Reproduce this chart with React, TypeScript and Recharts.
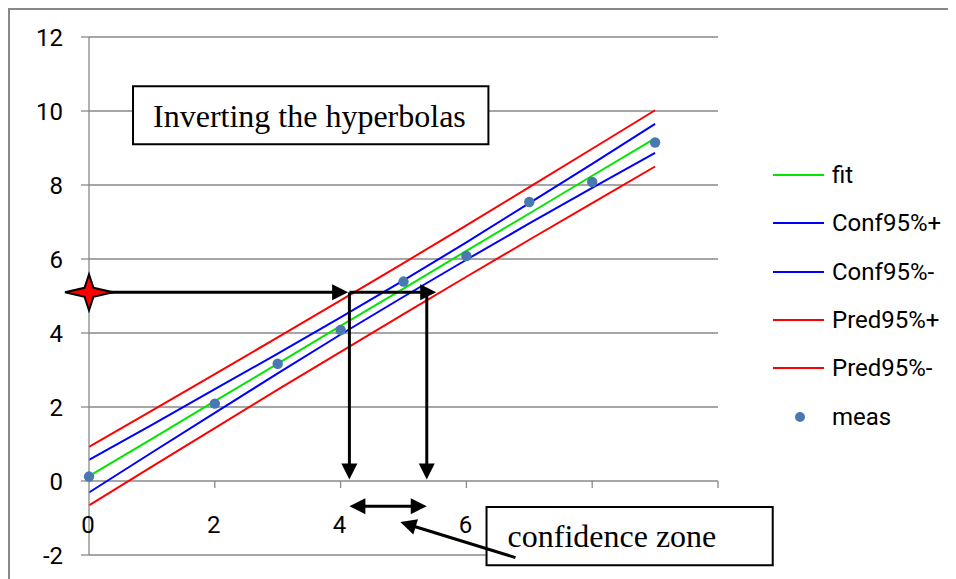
import React from 'react';
import {
  ComposedChart,
  Line,
  Scatter,
  XAxis,
  YAxis,
  CartesianGrid,
  ReferenceLine,
  ReferenceArea,
  ReferenceDot,
  Legend,
} from 'recharts';

// ---------- data ----------
const xValues = [0, 1, 2, 3, 4, 5, 6, 7, 8, 9];
const fitValues = [0.13, 1.14, 2.16, 3.17, 4.19, 5.2, 6.22, 7.23, 8.25, 9.26];
const confPlusValues = [0.57, 1.52, 2.48, 3.44, 4.42, 5.42, 6.45, 7.51, 8.57, 9.65];
const confMinusValues = [-0.31, 0.77, 1.84, 2.91, 3.96, 4.98, 5.98, 6.96, 7.92, 8.87];
const predPlusValues = [0.92, 1.9, 2.89, 3.88, 4.88, 5.89, 6.91, 7.94, 8.98, 10.02];
const predMinusValues = [-0.66, 0.39, 1.43, 2.47, 3.49, 4.51, 5.52, 6.52, 7.51, 8.5];

const measX = [0, 2, 3, 4, 5, 6, 7, 8, 9];
const measY = [0.12, 2.09, 3.17, 4.08, 5.39, 6.08, 7.54, 8.08, 9.15];

const yTicks = [-2, 0, 2, 4, 6, 8, 10, 12];
const xTicks = [0, 2, 4, 6, 8, 10];
const xTickMarks = [2, 4, 6, 8, 10];

const seriesKeys = ['fit', 'confPlus', 'confMinus', 'predPlus', 'predMinus'];
const seriesNames = ['fit', 'Conf95%+', 'Conf95%-', 'Pred95%+', 'Pred95%-', 'meas'];
const seriesColors = ['#00e600', '#0000ff', '#0000ff', '#ff0000', '#ff0000', '#4a78b0'];

// annotation values (data coordinates)
const targetY = 5.1;
const zoneLowX = 4.14;
const zoneHighX = 5.37;
const horizEndX = 5.52;
const arrowBottomY = 0.04;
const doubleArrowY = -0.68;
const pointerFrom = { x: 6.78, y: -2.07 };
const pointerTo = { x: 4.95, y: -1.11 };
const titleBox = { x1: 0.7, x2: 6.35, y1: 9.1, y2: 10.67 };
const zoneBox = { x1: 6.32, x2: 10.87, y1: -2.28, y2: -0.7 };
const titleText = 'Inverting the hyperbolas';
const zoneText = 'confidence zone';

const lineData = xValues.map((x, i) => ({
  x,
  fit: fitValues[i],
  confPlus: confPlusValues[i],
  confMinus: confMinusValues[i],
  predPlus: predPlusValues[i],
  predMinus: predMinusValues[i],
}));

const measData = measX.map((x, i) => ({ x, y: measY[i] }));

const GRID = '#888888';
const SANS = 'Roboto, "Liberation Sans", sans-serif';
const SERIF = '"Liberation Serif", "Times New Roman", serif';

// ---------- custom shapes ----------
function arrowShape(heads: 'end' | 'both') {
  return (p: any) => {
    const { x1, y1, x2, y2 } = p;
    if ([x1, y1, x2, y2].some((v) => typeof v !== 'number' || isNaN(v))) return <g />;
    const dx = x2 - x1;
    const dy = y2 - y1;
    const len = Math.sqrt(dx * dx + dy * dy) || 1;
    const ux = dx / len;
    const uy = dy / len;
    const px = -uy;
    const py = ux;
    const L = 16;
    const W = 8;
    const head = (tx: number, ty: number, dirx: number, diry: number) => {
      const bx = tx - dirx * L;
      const by = ty - diry * L;
      return `${tx},${ty} ${bx + px * W},${by + py * W} ${bx - px * W},${by - py * W}`;
    };
    const sx = heads === 'both' ? x1 + ux * (L - 2) : x1;
    const sy = heads === 'both' ? y1 + uy * (L - 2) : y1;
    const ex = x2 - ux * (L - 2);
    const ey = y2 - uy * (L - 2);
    return (
      <g>
        <line x1={sx} y1={sy} x2={ex} y2={ey} stroke="#000" strokeWidth={3} />
        <polygon points={head(x2, y2, ux, uy)} fill="#000" />
        {heads === 'both' && <polygon points={head(x1, y1, -ux, -uy)} fill="#000" />}
      </g>
    );
  };
}

const StarShape = (p: any) => {
  const { cx, cy } = p;
  if (typeof cx !== 'number' || typeof cy !== 'number') return <g />;
  const hx = 24;
  const hy = 18;
  const i = 4.5;
  const pts = [
    [cx + hx, cy],
    [cx + i, cy + i],
    [cx, cy + hy],
    [cx - i, cy + i],
    [cx - hx, cy],
    [cx - i, cy - i],
    [cx, cy - hy],
    [cx + i, cy - i],
  ]
    .map((q) => q.join(','))
    .join(' ');
  return <polygon points={pts} fill="#ff0000" stroke="#000" strokeWidth={2} strokeLinejoin="miter" />;
};

const MeasDot = (p: any) => {
  const { cx, cy } = p;
  if (typeof cx !== 'number' || typeof cy !== 'number') return <g />;
  return <circle cx={cx} cy={cy} r={5.2} fill={seriesColors[5]} />;
};

// tick labels that sit under the "confidence zone" box are hidden by it in the reference
const XTick = (p: any) => {
  const { x, y, payload } = p;
  if (payload.value >= zoneBox.x1) return <g />;
  return (
    <text x={x - 1} y={y - 31} dy="0.355em" textAnchor="middle" fill="#000" fontSize={24} fontFamily={SANS}>
      {payload.value}
    </text>
  );
};

const LegendContent = () => (
  <div style={{ fontFamily: SANS, fontSize: 24, color: '#000' }}>
    {seriesNames.map((name, i) => (
      <div key={name} style={{ display: 'flex', alignItems: 'center', height: 48.3 }}>
        <svg width={51} height={12} style={{ display: 'block' }}>
          {i < 5 ? (
            <line x1={0} y1={6} x2={51} y2={6} stroke={seriesColors[i]} strokeWidth={2} />
          ) : (
            <circle cx={27} cy={6} r={5} fill={seriesColors[i]} />
          )}
        </svg>
        <span style={{ marginLeft: 8, lineHeight: '28px' }}>{name}</span>
      </div>
    ))}
  </div>
);

export default function App() {
  return (
    <div
      style={{
        width: 946,
        height: 569,
        borderLeft: `2px solid ${GRID}`,
        borderTop: `2px solid ${GRID}`,
        position: 'relative',
        background: '#fff',
      }}
    >
      <ComposedChart
        width={946}
        height={569}
        data={lineData}
        margin={{ top: 27, right: 238, bottom: 0, left: 19 }}
      >
        <CartesianGrid horizontal vertical={false} stroke={GRID} strokeWidth={1.3} />
        <XAxis
          type="number"
          dataKey="x"
          domain={[0, 10]}
          ticks={xTicks}
          interval={0}
          axisLine={false}
          tickLine={false}
          tickSize={0}
          tickMargin={0}
          height={24}
          tick={<XTick />}
        />
        <YAxis
          type="number"
          domain={[-2, 12]}
          ticks={yTicks}
          interval={0}
          width={60}
          tickSize={8}
          tickMargin={18}
          axisLine={{ stroke: GRID, strokeWidth: 1.3 }}
          tickLine={{ stroke: GRID, strokeWidth: 1.3 }}
          tick={{ fill: '#000', fontSize: 24, fontFamily: SANS }}
        />
        {xTickMarks.map((t) => (
          <ReferenceLine
            key={`tm${t}`}
            segment={[
              { x: t, y: 0 },
              { x: t, y: -0.19 },
            ]}
            stroke={GRID}
            strokeWidth={1.3}
            ifOverflow="visible"
          />
        ))}
        {seriesKeys.map((k, i) => (
          <Line
            key={k}
            type="linear"
            dataKey={k}
            name={seriesNames[i]}
            stroke={seriesColors[i]}
            strokeWidth={2}
            dot={false}
            activeDot={false}
            isAnimationActive={false}
          />
        ))}
        <Scatter
          data={measData}
          dataKey="y"
          name={seriesNames[5]}
          fill={seriesColors[5]}
          shape={MeasDot}
          isAnimationActive={false}
        />
        <ReferenceLine
          segment={[
            { x: 0, y: targetY },
            { x: zoneLowX - 0.02, y: targetY },
          ]}
          ifOverflow="visible"
          shape={arrowShape('end')}
        />
        <ReferenceLine
          segment={[
            { x: zoneLowX, y: targetY },
            { x: horizEndX, y: targetY },
          ]}
          ifOverflow="visible"
          shape={arrowShape('end')}
        />
        <ReferenceLine
          segment={[
            { x: zoneLowX, y: targetY },
            { x: zoneLowX, y: arrowBottomY },
          ]}
          ifOverflow="visible"
          shape={arrowShape('end')}
        />
        <ReferenceLine
          segment={[
            { x: zoneHighX, y: targetY },
            { x: zoneHighX, y: arrowBottomY },
          ]}
          ifOverflow="visible"
          shape={arrowShape('end')}
        />
        <ReferenceLine
          segment={[
            { x: zoneLowX, y: doubleArrowY },
            { x: zoneHighX, y: doubleArrowY },
          ]}
          ifOverflow="visible"
          shape={arrowShape('both')}
        />
        <ReferenceDot x={0} y={targetY} r={20} ifOverflow="visible" shape={StarShape} />
        <ReferenceArea
          x1={titleBox.x1}
          x2={titleBox.x2}
          y1={titleBox.y1}
          y2={titleBox.y2}
          fill="#fff"
          fillOpacity={1}
          stroke="#000"
          strokeWidth={2}
          ifOverflow="visible"
          label={{
            value: titleText,
            position: 'insideLeft',
            offset: 20,
            fill: '#000',
            fontSize: 32,
            fontFamily: SERIF,
          }}
        />
        <ReferenceArea
          x1={zoneBox.x1}
          x2={zoneBox.x2}
          y1={zoneBox.y1}
          y2={zoneBox.y2}
          fill="#fff"
          fillOpacity={1}
          stroke="#000"
          strokeWidth={2}
          ifOverflow="visible"
          label={{
            value: zoneText,
            position: 'insideLeft',
            offset: 21,
            fill: '#000',
            fontSize: 32,
            fontFamily: SERIF,
          }}
        />
        <ReferenceLine
          segment={[pointerFrom, pointerTo]}
          ifOverflow="visible"
          shape={arrowShape('end')}
        />
        <Legend
          layout="vertical"
          align="center"
          verticalAlign="middle"
          content={<LegendContent />}
          wrapperStyle={{ left: 763, top: 141, width: 'auto' }}
        />
      </ComposedChart>
    </div>
  );
}
